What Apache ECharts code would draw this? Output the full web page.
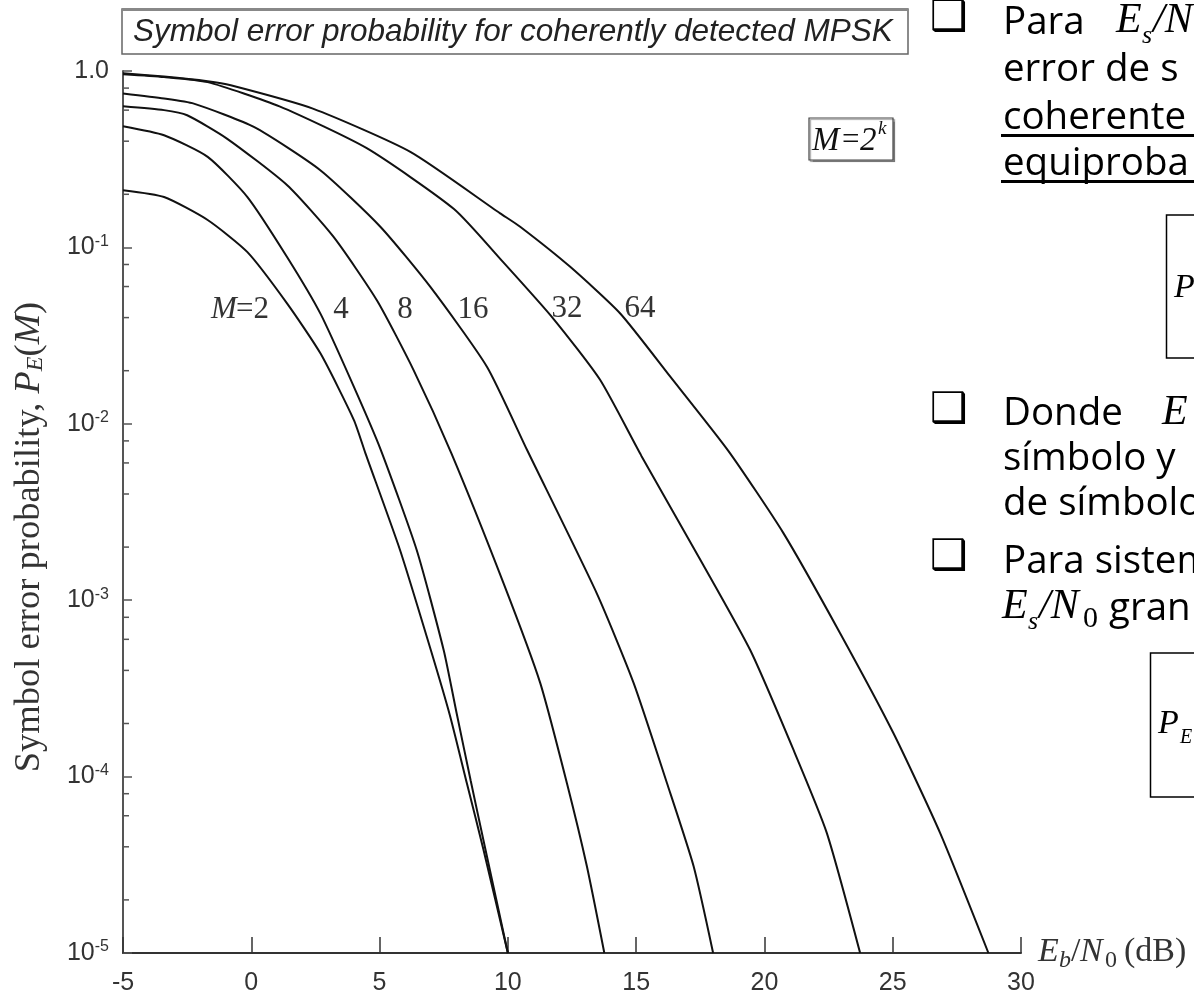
<!DOCTYPE html>
<html><head><meta charset="utf-8">
<script src="https://cdn.jsdelivr.net/npm/echarts@6/dist/echarts.min.js"></script>
<style>html,body{margin:0;padding:0;background:#fff}#c{width:1194px;height:997px}</style>
</head><body><div id="c"></div>
<script>
// ---- data ----
const xMin = -5, xMax = 30, xStep = 5;
const yMin = 1e-5, yMax = 1;
const yMinorTicks = [0.8,0.6,0.4,0.2, 0.08,0.06,0.04,0.02, 0.008,0.006,0.004,0.002,
  0.0008,0.0006,0.0004,0.0002, 0.00008,0.00006,0.00004,0.00002];
const curveLabels = ['M=2','4','8','16','32','64'];
const mpsk2 = [[-5,0.211],[-3.4,0.193],[-1.7,0.143],[-0.15,0.094],[1.4,0.048],[2.7,0.025],[4.0,0.0105],[4.45,0.0068],[5.8,0.00192],[7.0,5.2e-4],[7.75,2.2e-4],[8.4,9.2e-5],[9.05,3.85e-5],[10.0,1e-5]];
const mpsk4 = [[-5,0.486],[-3.4,0.432],[-1.7,0.326],[-0.15,0.193],[1.4,0.088],[2.7,0.042],[4.0,0.0162],[5.05,0.0071],[6.45,0.00192],[7.5,5.2e-4],[8.0,2.3e-4],[8.55,9.5e-5],[9.12,3.9e-5],[10.0,1e-5]];
const mpsk8 = [[-5,0.631],[-3.4,0.60],[-2.5,0.561],[-0.95,0.414],[1.4,0.225],[3.2,0.115],[4.9,0.050],[6.33,0.0201],[7.8,0.0068],[9.83,1.25e-3],[11.26,3.4e-4],[12.3,9.2e-5],[13.08,3.1e-5],[13.76,1e-5]];
const mpsk16 = [[-5,0.745],[-3.4,0.698],[-2.24,0.653],[0.1,0.482],[2.69,0.274],[5.03,0.131],[6.98,0.0597],[9.19,0.021],[10.75,0.0071],[13.47,1.09e-3],[14.9,3.4e-4],[16.2,9.2e-5],[17.24,3.1e-5],[18.0,1e-5]];
const mpsk32 = [[-5,0.96],[-3.4,0.925],[-1.7,0.865],[1.1,0.63],[4.5,0.365],[7.9,0.165],[9.8,0.083],[11.8,0.039],[13.6,0.0177],[15.2,0.0066],[17.6,1.6e-3],[19.45,5.2e-4],[21.13,1.42e-4],[22.43,4.8e-5],[23.73,1e-5]];
const mpsk64 = [[-5,0.97],[-3.4,0.93],[-1.7,0.875],[-0.8,0.83],[2.4,0.612],[6.2,0.348],[9.7,0.156],[10.48,0.131],[12.43,0.0776],[14.38,0.0422],[16.33,0.0185],[18.6,0.0070],[20.74,2.4e-3],[22.95,6.5e-4],[25.03,1.76e-4],[26.85,4.78e-5],[28.73,1e-5]];
const curves = [mpsk2, mpsk4, mpsk8, mpsk16, mpsk32, mpsk64];

// ---- chart ----
const chart = echarts.init(document.getElementById('c'), null, {renderer:'canvas'});
const SANS = '"Liberation Sans", Arial, sans-serif';
const SERIF = '"Liberation Serif", "Times New Roman", serif';
const SLIDE = '"Open Sans", "Noto Sans", sans-serif';

const lineSeries = curves.map((d, i) => ({
  type: 'line', name: curveLabels[i], data: d, showSymbol: false, smooth: 0.2,
  lineStyle: {color: '#111', width: 2}, silent: true, z: 3
}));

const minorTickSeries = {
  type: 'custom', data: yMinorTicks.map(v => [xMin, v]), silent: true, z: 4, clip: false,
  renderItem: (params, api) => {
    const p = api.coord([api.value(0), api.value(1)]);
    return {type: 'line', shape: {x1: p[0], y1: p[1], x2: p[0] + 6, y2: p[1]},
      style: {stroke: '#555', lineWidth: 1.5}};
  }
};

function txt(x, y, text, font, opts) {
  return Object.assign({type: 'text', x: x, y: y, silent: true, z: 20,
    style: Object.assign({text: text, font: font, fill: '#111', align: 'left', verticalAlign: 'middle'}, opts || {})});
}
const BODY = '38.5px ' + SLIDE;
const MATH = 'italic 42px ' + SERIF;
const SUB = 'italic 26px ' + SERIF;

const graphics = [
  // title box
  {type: 'rect', shape: {x: 122, y: 9, width: 786, height: 45}, style: {fill: '#fff', stroke: '#666', lineWidth: 1.5}, z: 10},
  {type: 'line', shape: {x1: 122, y1: 9.5, x2: 908, y2: 9.5}, style: {stroke: '#888', lineWidth: 3}, z: 11},
  txt(133, 32, 'Symbol error probability for coherently detected MPSK', 'italic 31.5px ' + SANS, {fill: '#222'}),
  // M = 2^k box
  {type: 'rect', shape: {x: 809, y: 118, width: 84, height: 42}, style: {fill: '#fff', stroke: '#444', lineWidth: 1.2, shadowColor: 'rgba(0,0,0,0.35)', shadowOffsetX: 1.5, shadowOffsetY: 1.5, shadowBlur: 1}, z: 10},
  txt(812, 141, 'M', 'italic 33px ' + SERIF),
  txt(842, 141, '=', '31px ' + SERIF),
  txt(860, 141, '2', 'italic 33px ' + SERIF),
  txt(878, 129, 'k', 'italic 19px ' + SERIF),
  // curve labels
  txt(211, 310, 'M', 'italic 31px ' + SERIF, {fill: '#333'}),
  txt(236, 310, '=2', '31px ' + SERIF, {fill: '#333'}),
  txt(341, 310, curveLabels[1], '31px ' + SERIF, {fill: '#333', align: 'center'}),
  txt(405, 310, curveLabels[2], '31px ' + SERIF, {fill: '#333', align: 'center'}),
  txt(473, 310, curveLabels[3], '31px ' + SERIF, {fill: '#333', align: 'center'}),
  txt(567, 309, curveLabels[4], '31px ' + SERIF, {fill: '#333', align: 'center'}),
  txt(640, 309, curveLabels[5], '31px ' + SERIF, {fill: '#333', align: 'center'}),
  // x axis name
  txt(1038, 952, 'E', 'italic 34px ' + SERIF, {fill: '#333'}),
  txt(1059, 961, 'b', 'italic 24px ' + SERIF, {fill: '#333'}),
  txt(1071, 952, '/', '34px ' + SERIF, {fill: '#333'}),
  txt(1080, 952, 'N', 'italic 34px ' + SERIF, {fill: '#333'}),
  txt(1105, 961, '0', '24px ' + SERIF, {fill: '#333'}),
  txt(1124, 952, '(dB)', '34px ' + SERIF, {fill: '#333'}),
  // y axis name (rotated)
  {type: 'text', x: 29, y: 537, rotation: Math.PI / 2, silent: true, z: 20,
    style: {text: 'Symbol error probability, {i|P}{s|E}{n|(}{i|M}{n|)}', font: '36.5px ' + SERIF, fill: '#333',
      align: 'center', verticalAlign: 'middle',
      rich: {i: {fontFamily: SERIF, fontStyle: 'italic', fontSize: 36.5, fill: '#333'},
             s: {fontFamily: SERIF, fontStyle: 'italic', fontSize: 24, fill: '#333', padding: [14, 0, 0, 0]},
             n: {fontFamily: SERIF, fontSize: 36.5, fill: '#333'}}}},
  // right-side slide text
  txt(930, 19, '\u2751', '42px "DejaVu Sans"', {fill: '#000'}),
  txt(1003, 23, 'Para', BODY, {fill: '#000'}),
  txt(1116, 21, 'E', MATH, {fill: '#000'}),
  txt(1142, 36, 's', SUB, {fill: '#000'}),
  txt(1153, 21, '/N', MATH, {fill: '#000'}),
  txt(1003, 70, 'error de s', BODY, {fill: '#000'}),
  txt(1003, 118, 'coherente', BODY, {fill: '#000'}),
  {type: 'line', shape: {x1: 1001, y1: 135.5, x2: 1194, y2: 135.5}, style: {stroke: '#000', lineWidth: 3}, z: 20},
  txt(1003, 164, 'equiproba', BODY, {fill: '#000'}),
  {type: 'line', shape: {x1: 1001, y1: 181.5, x2: 1194, y2: 181.5}, style: {stroke: '#000', lineWidth: 3}, z: 20},
  {type: 'rect', shape: {x: 1166.5, y: 215, width: 60, height: 143}, style: {fill: 'none', stroke: '#000', lineWidth: 1.5}, z: 20},
  txt(1174, 288, 'P', 'italic 34px ' + SERIF, {fill: '#000'}),
  txt(930, 411, '\u2751', '42px "DejaVu Sans"', {fill: '#000'}),
  txt(1003, 414, 'Donde', BODY, {fill: '#000'}),
  txt(1162, 413, 'E', MATH, {fill: '#000'}),
  txt(1003, 459, 'símbolo y', BODY, {fill: '#000'}),
  txt(1003, 504, 'de símbolo', BODY, {fill: '#000'}),
  txt(930, 558, '\u2751', '42px "DejaVu Sans"', {fill: '#000'}),
  txt(1003, 562, 'Para sistem', BODY, {fill: '#000'}),
  txt(1002, 607, 'E', MATH, {fill: '#000'}),
  txt(1028, 622, 's', SUB, {fill: '#000'}),
  txt(1039, 607, '/N', MATH, {fill: '#000'}),
  txt(1083, 619, '0', '30px ' + SERIF, {fill: '#000'}),
  txt(1109, 609, 'gran', BODY, {fill: '#000'}),
  {type: 'rect', shape: {x: 1150.5, y: 653, width: 80, height: 144}, style: {fill: 'none', stroke: '#000', lineWidth: 1.5}, z: 20},
  txt(1158, 724, 'P', 'italic 34px ' + SERIF, {fill: '#000'}),
  txt(1180, 738, 'E', 'italic 20px ' + SERIF, {fill: '#000'})
];

chart.setOption({
  animation: false,
  backgroundColor: '#fff',
  grid: {left: 123, top: 71, width: 898, height: 882, containLabel: false},
  xAxis: {
    type: 'value', min: xMin, max: xMax, interval: xStep,
    axisLine: {show: true, onZero: false, lineStyle: {color: '#333', width: 2}},
    axisTick: {show: true, inside: true, length: 16, lineStyle: {color: '#333', width: 1.5}},
    axisLabel: {margin: 18, fontFamily: SANS, fontSize: 25, color: '#333'},
    splitLine: {show: false}
  },
  yAxis: {
    type: 'log', logBase: 10, min: yMin, max: yMax, splitNumber: 5,
    axisLine: {show: true, onZero: false, lineStyle: {color: '#555', width: 2}},
    axisTick: {show: true, inside: true, length: 9, lineStyle: {color: '#555', width: 1.5}},
    minorTick: {show: false},
    axisLabel: {
      margin: 14, fontFamily: SANS, fontSize: 25, color: '#333',
      formatter: v => v >= 0.999 ? '1.0' : '10{s|' + Math.round(Math.log10(v)) + '}',
      rich: {s: {fontFamily: SANS, fontSize: 16, color: '#333', verticalAlign: 'top', padding: [0, 0, 12, 0]}}
    },
    splitLine: {show: false}
  },
  series: lineSeries.concat([minorTickSeries]),
  graphic: graphics
});
</script></body></html>
